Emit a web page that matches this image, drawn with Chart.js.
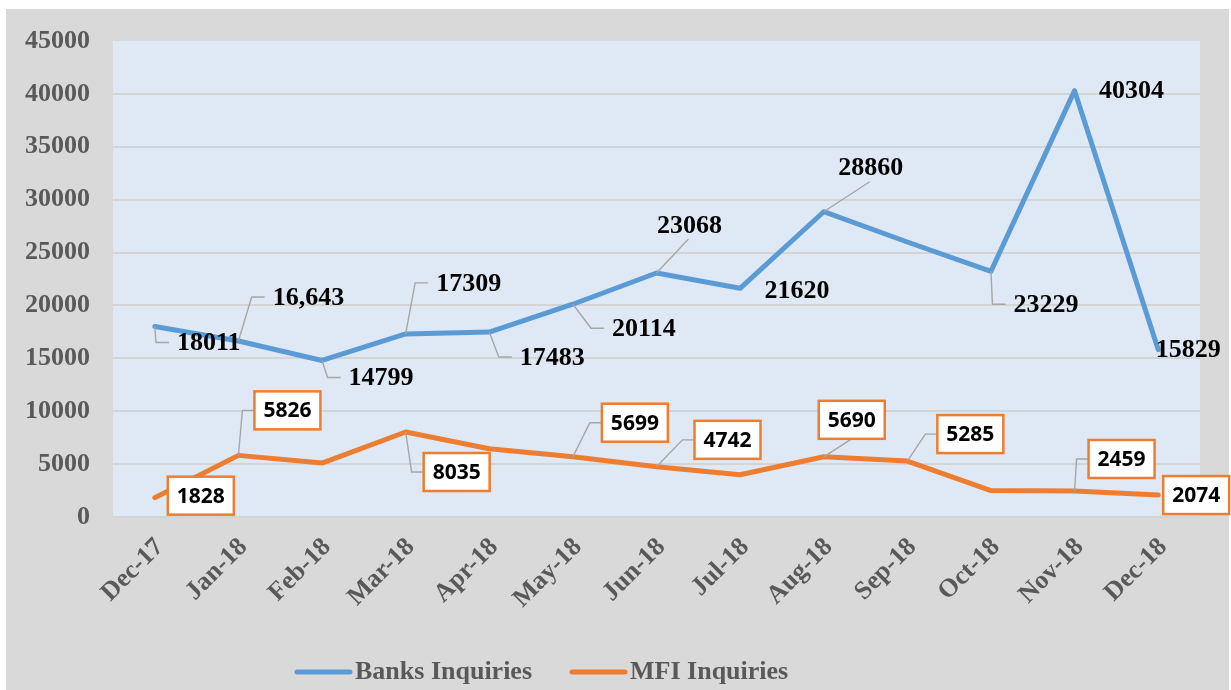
<!DOCTYPE html>
<html><head><meta charset="utf-8">
<script src="https://cdn.jsdelivr.net/npm/chart.js@4.4.1/dist/chart.umd.min.js"></script>
<style>html,body{margin:0;padding:0;background:#fff;}canvas{display:block;}</style>
</head><body>
<canvas id="c" width="1231" height="690"></canvas>
<script>
// ---- data ----
const categories = ['Dec-17','Jan-18','Feb-18','Mar-18','Apr-18','May-18','Jun-18','Jul-18','Aug-18','Sep-18','Oct-18','Nov-18','Dec-18'];
const banksInquiries = [18011,16643,14799,17309,17483,20114,23068,21620,28860,26000,23229,40304,15829];
const mfiInquiries = [1828,5826,5100,8035,6450,5699,4742,4000,5690,5285,2500,2459,2074];
const banksLabels = ['18011','16,643','14799','17309','17483','20114','23068','21620','28860',null,'23229','40304','15829'];
const mfiLabels = ['1828','5826',null,'8035',null,'5699','4742',null,'5690','5285',null,'2459','2074'];
const yTicks = [0,5000,10000,15000,20000,25000,30000,35000,40000,45000];

// ---- label placement (style) ----
const banksLabelOffsets = [[54,16],[70,-44],[59,17],[63,-51],[63,25],[71,24],[33,-48],[57,2],[47,-44],null,[55,33],[57,0],[30,0]];
const banksLeaders = ['elbow','elbow','elbow','elbow','elbow','elbow','up','none','up',null,'elbow','none','none'];
const mfiLabelOffsets = [[46,-2],[49,-45],null,[51,40],null,[62,-34],[71,-27],null,[28,-37],[63,-27],null,[47,-32],[38,0]];
const mfiLeaders = ['none','elbow',null,'elbow',null,'elbow','elbow',null,'up','elbow',null,'elbow','none'];

const SERIF = '"Liberation Serif", "Times New Roman", serif';
const SANS = '"Open Sans", "Liberation Sans", sans-serif';
const BLUE = '#5b9bd5', ORANGE = '#ed7d31', GRAYTXT = '#595959';

const bgPlugin = {
  id:'bg',
  beforeDraw(chart){
    const ctx = chart.ctx, a = chart.chartArea;
    ctx.save();
    ctx.fillStyle = '#ffffff';
    ctx.fillRect(0,0,chart.width,chart.height);
    ctx.fillStyle = '#d9d9d9';
    ctx.fillRect(6,9,chart.width-8,chart.height-9);
    ctx.fillStyle = '#dee9f5';
    ctx.fillRect(a.left,a.top,a.right-a.left,a.bottom-a.top);
    ctx.restore();
  }
};

const labelPlugin = {
  id:'dlabels',
  afterDatasetsDraw(chart){
    const ctx = chart.ctx;
    const cfgs = [
      {ds:0, labels:banksLabels, offs:banksLabelOffsets, leaders:banksLeaders, boxed:false},
      {ds:1, labels:mfiLabels, offs:mfiLabelOffsets, leaders:mfiLeaders, boxed:true}
    ];
    ctx.save();
    cfgs.forEach(c=>{
      const meta = chart.getDatasetMeta(c.ds);
      c.labels.forEach((txt,i)=>{
        if(!txt) return;
        const p = meta.data[i];
        const px = p.x, py = p.y;
        const cx = px + c.offs[i][0], cy = py + c.offs[i][1];
        ctx.font = c.boxed ? 'bold 21px '+SANS : 'bold 26px '+SERIF;
        const tw = ctx.measureText(txt).width;
        const w = c.boxed ? 66 : tw, h = c.boxed ? 38 : 22;
        const left = cx - w/2;
        const lk = c.leaders[i];
        if(lk && lk!=='none'){
          ctx.strokeStyle = '#a6a6a6';
          ctx.lineWidth = 1.4;
          ctx.beginPath();
          ctx.moveTo(px,py);
          if(lk==='elbow'){
            if(c.boxed){ ctx.lineTo(left-12,cy); ctx.lineTo(left,cy); }
            else { ctx.lineTo(left-21,cy); ctx.lineTo(left-8,cy); }
          } else {
            if(c.boxed){ ctx.lineTo(cx,cy+h/2); }
            else { ctx.lineTo(cx-1,cy+14); }
          }
          ctx.stroke();
        }
        if(c.boxed){
          ctx.fillStyle = '#ffffff';
          ctx.fillRect(left,cy-h/2,w,h);
          ctx.strokeStyle = ORANGE;
          ctx.lineWidth = 2.5;
          ctx.strokeRect(left,cy-h/2,w,h);
        }
        ctx.fillStyle = '#000000';
        ctx.textAlign = 'center';
        ctx.textBaseline = 'middle';
        ctx.fillText(txt,cx,cy+1);
      });
    });
    ctx.restore();
  }
};

const legendPlugin = {
  id:'customLegend',
  afterDraw(chart){
    const ctx = chart.ctx;
    const y = 672;
    let x = 295;
    ctx.save();
    ctx.font = 'bold 26px '+SERIF;
    ctx.textBaseline = 'middle';
    ctx.textAlign = 'left';
    chart.data.datasets.forEach((ds,k)=>{
      ctx.strokeStyle = ds.borderColor;
      ctx.lineWidth = 5;
      ctx.lineCap = 'round';
      ctx.beginPath();
      ctx.moveTo(x+2,y); ctx.lineTo(x+55,y);
      ctx.stroke();
      ctx.fillStyle = GRAYTXT;
      ctx.fillText(ds.label,x+60,y);
      x = x + 60 + ctx.measureText(ds.label).width + 38;
    });
    ctx.restore();
  }
};

new Chart(document.getElementById('c'), {
  type:'line',
  data:{
    labels:categories,
    datasets:[
      {label:'Banks Inquiries', data:banksInquiries, borderColor:BLUE, backgroundColor:BLUE, borderWidth:5, pointRadius:0, tension:0, borderJoinStyle:'round', borderCapStyle:'round'},
      {label:'MFI Inquiries', data:mfiInquiries, borderColor:ORANGE, backgroundColor:ORANGE, borderWidth:5, pointRadius:0, tension:0, borderJoinStyle:'round', borderCapStyle:'round'}
    ]
  },
  options:{
    responsive:false, devicePixelRatio:1, animation:false,
    layout:{padding:{left:0,top:41,right:31,bottom:0}},
    plugins:{legend:{display:false}, tooltip:{enabled:false}},
    scales:{
      x:{
        offset:true,
        grid:{display:false, drawTicks:false},
        border:{display:false},
        ticks:{autoSkip:false, maxRotation:45, minRotation:45, padding:15, labelOffset:5, color:GRAYTXT, font:{family:SERIF, size:26, weight:'bold'}},
        afterFit(s){ s.height = 173; }
      },
      y:{
        min:0, max:45000,
        afterBuildTicks(s){ s.ticks = yTicks.map(v=>({value:v})); },
        grid:{drawTicks:false, lineWidth:2, color:(c)=> (c.tick && c.tick.value===45000) ? 'rgba(0,0,0,0)' : '#d4d4d4'},
        border:{display:false},
        ticks:{padding:23, color:GRAYTXT, font:{family:SERIF, size:26, weight:'bold'}, callback:(v)=>String(v)},
        afterFit(s){ s.width = 113; }
      }
    }
  },
  plugins:[bgPlugin, labelPlugin, legendPlugin]
});
</script>
</body></html>
